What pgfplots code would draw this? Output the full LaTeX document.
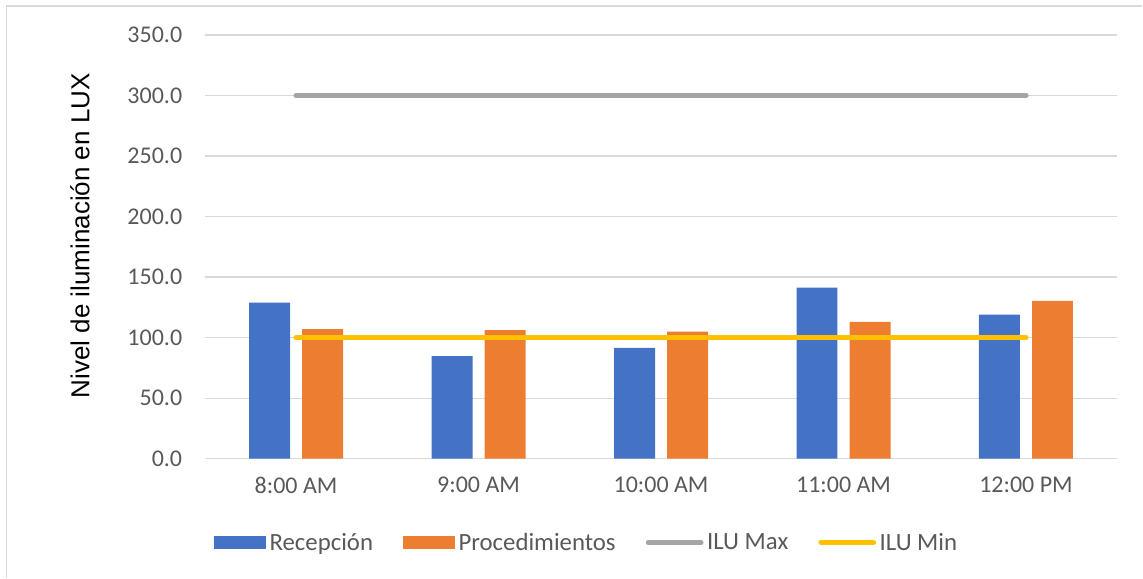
\documentclass[border=0pt]{standalone}
\usepackage{fontspec}
\setmainfont{Carlito}
\newfontfamily\labelfont{Liberation Sans}
\usepackage{pgfplots}
\usepackage{pgfplotstable}
\pgfplotsset{compat=1.18}

\definecolor{recblue}{HTML}{4472C4}
\definecolor{procorange}{HTML}{ED7D31}
\definecolor{maxgray}{HTML}{A5A5A5}
\definecolor{minyellow}{HTML}{FFC000}
\definecolor{txt}{HTML}{595959}
\definecolor{gridc}{HTML}{D9D9D9}

% lux readings per hour (0 = 8:00 AM ... 4 = 12:00 PM)
\pgfplotstableread{
x rec proc
0 128.9 107.0
1 84.8 106.2
2 91.5 105.0
3 141.3 113.0
4 119.0 130.4
}\lux

\begin{document}
\begin{tikzpicture}
\begin{axis}[name=ax,
    scale only axis, width=684.75pt, height=318pt,
    xmin=-0.5, xmax=4.5, ymin=0, ymax=350,
    ytick={0,50,...,350},
    xtick={0,...,4},
    xticklabels={8:00 AM,9:00 AM,10:00 AM,11:00 AM,12:00 PM},
    ymajorgrids, grid style={gridc, line width=0.9pt},
    axis line style={draw=none}, major tick length=0pt,
    /pgf/number format/assume math mode=true,
    /pgf/number format/fixed, /pgf/number format/fixed zerofill,
    /pgf/number format/precision=1,
    tick label style={font=\fontsize{18}{21}\selectfont, text=txt},
    yticklabel style={xshift=-13.5pt},
    xticklabel style={yshift=-10.5pt},
    ylabel={\labelfont Nivel de iluminación en LUX},
    ylabel style={font=\fontsize{19.5}{23}\selectfont, text=black,
        at={(axis description cs:-0.1369,0.526)}, anchor=center},
    legend columns=4,
    legend style={at={(axis description cs:0.0099,-0.1981)}, anchor=west,
        draw=none, fill=none, inner sep=0pt,
        font=\fontsize{18.6}{22}\selectfont, text=txt,
        nodes={inner sep=2.6pt},
        /tikz/every even column/.append style={column sep=20pt}},
]
\addplot[ybar, bar width=30.75pt, bar shift=-19.9pt, fill=recblue, draw=none,
    legend image code/.code={\fill[recblue] (0pt,-4.9pt) rectangle (39pt,4.9pt);}]
    table[x=x, y=rec]{\lux};
\addlegendentry{Recepción}
\addplot[ybar, bar width=30.75pt, bar shift=19.9pt, fill=procorange, draw=none,
    legend image code/.code={\fill[procorange] (0pt,-4.9pt) rectangle (39pt,4.9pt);}]
    table[x=x, y=proc]{\lux};
\addlegendentry{Procedimientos}
\addplot[sharp plot, no marks, maxgray, line width=3.9pt, line cap=round,
    legend image code/.code={\draw[maxgray, line width=3.9pt, line cap=round] (1.5pt,0) -- (41pt,0);}]
    coordinates {(0,300) (4,300)};
\addlegendentry{ILU Max}
\addplot[sharp plot, no marks, minyellow, line width=3.9pt, line cap=round,
    legend image code/.code={\draw[minyellow, line width=3.9pt, line cap=round] (1.5pt,0) -- (41pt,0);}]
    coordinates {(0,100) (4,100)};
\addlegendentry{ILU Min}
\end{axis}
\draw[gridc, line width=1.2pt]
    ([xshift=-148.9pt, yshift=-89.25pt]ax.south west)
    -- ([xshift=-148.9pt, yshift=21.75pt]ax.north west)
    -- ([xshift=18.75pt, yshift=21.75pt]ax.north east);
\path[use as bounding box]
    ([xshift=-153.75pt, yshift=-89.25pt]ax.south west)
    rectangle ([xshift=18.75pt, yshift=26.25pt]ax.north east);
\end{tikzpicture}
\end{document}
